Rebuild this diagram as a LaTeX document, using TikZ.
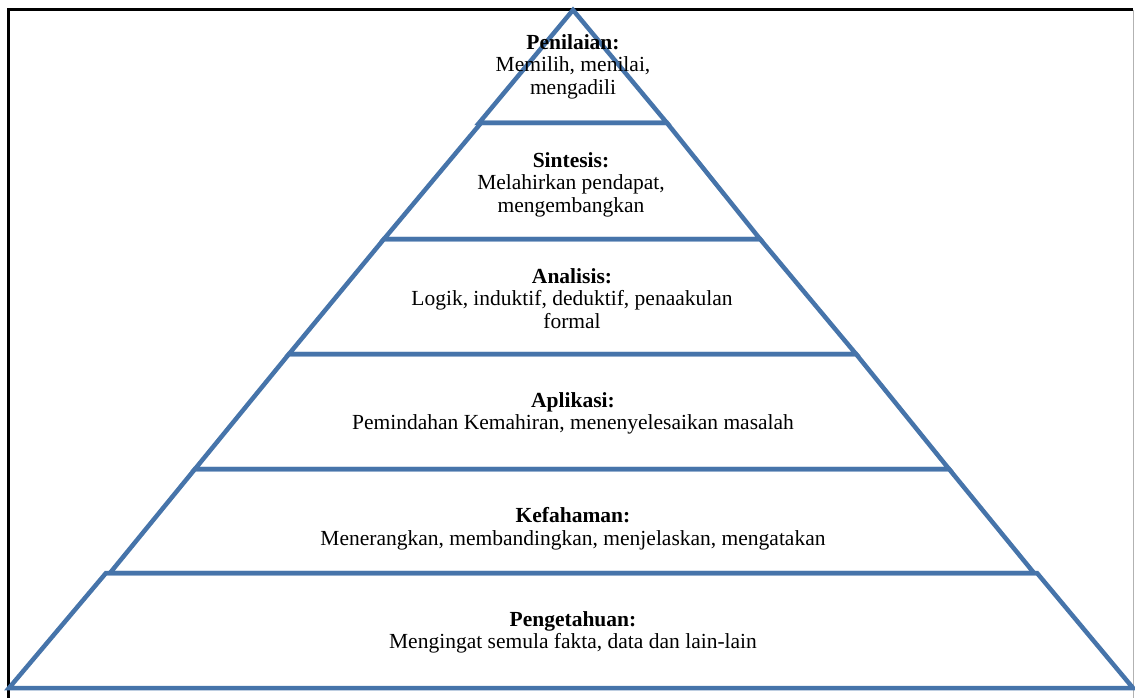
\documentclass[tikz,border=0pt]{standalone}
\usepackage{fontspec}
\setmainfont{Liberation Serif}
\usetikzlibrary{calc}
\definecolor{pyrblue}{RGB}{70,116,170}
\tikzset{
  layer/.style={draw=pyrblue,line width=4.5pt,line join=miter},
  lvltext/.style={align=center,inner sep=0pt,
    font=\fontsize{21.5pt}{22.6pt}\selectfont}
}
\begin{document}
\begin{tikzpicture}[x=1pt,y=-1pt]
      \useasboundingbox(0,0)rectangle(1135,698);
      % frame
      \draw[line width=3pt](8.5,698)--(8.5,10)--(1133,10);
      \draw[gray!60,line width=1pt](1133.5,10)--(1133.5,698);
      % layers
      \coordinate(T)at(573,10);
      \foreach \xa/\xb/\ya/\xc/\xd/\yb/\n in{
          573/573/10/479/667/123/1,
          481/667/123/384/760/239/2,
          384/760/239/289/856/354/3,
          289/856/354/195/949/469/4,
          195/949/469/110/1034/573/5,
          106/1037/573/9/1133/688/6}{
        \coordinate(A\n)at(\xa,\ya);
        \coordinate(B\n)at(\xb,\ya);
        \coordinate(C\n)at(\xd,\yb);
        \coordinate(D\n)at(\xc,\yb);
        \draw[layer](A\n)--(B\n)--(C\n)--(D\n)--cycle;
      }
      % texts
      \node[lvltext](penilaian)at(573,66.5){\textbf{Penilaian:}\\Memilih, menilai,\\mengadili};
      \node[lvltext](sintesis)at(571,184.5){\textbf{Sintesis:}\\Melahirkan pendapat,\\mengembangkan};
      \node[lvltext](analisis)at(572,298.5){\textbf{Analisis:}\\Logik, induktif, deduktif, penaakulan\\formal};
      \node[lvltext](aplikasi)at(573,413.5){\textbf{Aplikasi:}\\Pemindahan Kemahiran, menenyelesaikan masalah};
      \node[lvltext](kefahaman)at(573,529){\textbf{Kefahaman:}\\Menerangkan, membandingkan, menjelaskan, mengatakan};
      \node[lvltext](pengetahuan)at(573,632.5){\textbf{Pengetahuan:}\\Mengingat semula fakta, data dan lain-lain};
    \end{tikzpicture}
\end{document}
